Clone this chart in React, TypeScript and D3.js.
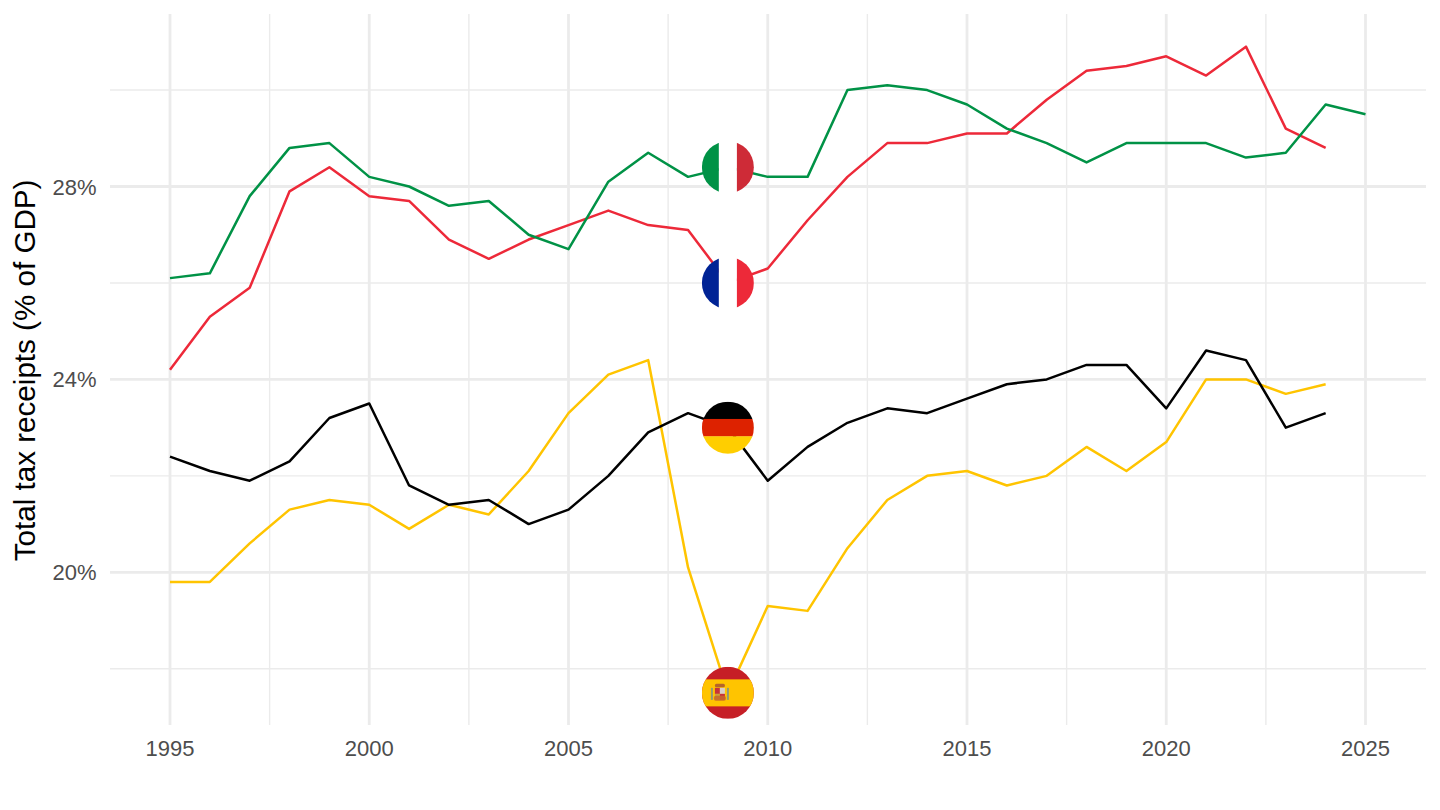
import React from "react";
import * as d3 from "d3";

const years = d3.range(1995, 2026);
const italy = [26.1,26.2,27.8,28.8,28.9,28.2,28.0,27.6,27.7,27.0,26.7,28.1,28.7,28.2,28.4,28.2,28.2,30.0,30.1,30.0,29.7,29.2,28.9,28.5,28.9,28.9,28.9,28.6,28.7,29.7,29.5];
const france = [24.2,25.3,25.9,27.9,28.4,27.8,27.7,26.9,26.5,26.9,27.2,27.5,27.2,27.1,26.0,26.3,27.3,28.2,28.9,28.9,29.1,29.1,29.8,30.4,30.5,30.7,30.3,30.9,29.2,28.8];
const germany = [22.4,22.1,21.9,22.3,23.2,23.5,21.8,21.4,21.5,21.0,21.3,22.0,22.9,23.3,23.0,21.9,22.6,23.1,23.4,23.3,23.6,23.9,24.0,24.3,24.3,23.4,24.6,24.4,23.0,23.3];
const spain = [19.8,19.8,20.6,21.3,21.5,21.4,20.9,21.4,21.2,22.1,23.3,24.1,24.4,20.1,17.5,19.3,19.2,20.5,21.5,22.0,22.1,21.8,22.0,22.6,22.1,22.7,24.0,24.0,23.7,23.9];
const xMajor = [1995, 2000, 2005, 2010, 2015, 2020, 2025];
const xMinor = [1997.5, 2002.5, 2007.5, 2012.5, 2017.5, 2022.5];
const yMajor = [20, 24, 28];
const yMinor = [18, 22, 26, 30];
const flagYear = 2009;
const yLabel = "Total tax receipts (% of GDP)";

const x = d3.scaleLinear().domain([1995, 2025]).range([170, 1365.5]);
const y = d3.scaleLinear().domain([20, 28]).range([572.3, 186.5]);
const line = d3.line<number>().x((_, i) => x(years[i])).y((d) => y(d));

const PANEL = { left: 110, right: 1426, top: 14, bottom: 725 };
const R = 26;

const series = [
  { id: "es", values: spain, color: "#FFC400" },
  { id: "de", values: germany, color: "#000000" },
  { id: "fr", values: france, color: "#ED2939" },
  { id: "it", values: italy, color: "#009246" },
];

function Flag({ id, value }: { id: string; value: number }) {
  const cx = x(flagYear);
  const cy = y(value);
  let body: React.ReactNode = null;
  if (id === "it" || id === "fr") {
    const [a, b] = id === "it" ? ["#009246", "#CE2B37"] : ["#002395", "#ED2939"];
    const w = 9;
    body = (
      <>
        <rect x={cx - R} y={cy - R} width={R - w} height={2 * R} fill={a} />
        <rect x={cx - w} y={cy - R} width={2 * w} height={2 * R} fill="#FFFFFF" />
        <rect x={cx + w} y={cy - R} width={R - w} height={2 * R} fill={b} />
      </>
    );
  } else if (id === "de") {
    const colors = ["#000000", "#DD2200", "#FFCE00"];
    body = colors.map((c, i) => (
      <rect key={c} x={cx - R} y={cy - R + (i * 2 * R) / 3} width={2 * R} height={(2 * R) / 3 + 0.3} fill={c} />
    ));
  } else {
    const c = cx - 8;
    body = (
      <>
        <rect x={cx - R} y={cy - R} width={2 * R} height={2 * R} fill="#C61F26" />
        <rect x={cx - R} y={cy - 13.5} width={2 * R} height={27} fill="#FFC400" />
        <rect x={c - 5} y={cy - 5} width={5} height={6} fill="#C8323A" />
        <rect x={c} y={cy - 5} width={5} height={6} fill="#D8CFCB" />
        <rect x={c - 5} y={cy + 1} width={5} height={6} fill="#C9A23A" />
        <rect x={c} y={cy + 1} width={5} height={6} fill="#C8323A" />
        <rect x={c - 6} y={cy + 3} width={12} height={5} rx={2} fill="#C8682A" opacity={0.85} />
        <rect x={c - 5} y={cy - 9} width={10} height={3.5} rx={1.5} fill="#B5652A" />
        <rect x={c - 9} y={cy - 5} width={2} height={12} fill="#8E9A78" />
        <rect x={c + 7} y={cy - 5} width={2} height={12} fill="#8E9A78" />
      </>
    );
  }
  return (
    <g>
      <clipPath id={`clip-${id}`}>
        <circle cx={cx} cy={cy} r={R} />
      </clipPath>
      <g clipPath={`url(#clip-${id})`}>{body}</g>
    </g>
  );
}

export default function App() {
  const font = "'Liberation Sans', Arial, Helvetica, sans-serif";
  const tick = { fill: "#4D4D4D", fontSize: 22, fontFamily: font };
  return (
    <svg
      width={1440}
      height={810}
      viewBox="0 0 1440 810"
      style={{ position: "absolute", left: 0, top: 0, background: "#fff" }}
    >
      {yMinor.map((v) => (
        <line key={v} x1={PANEL.left} x2={PANEL.right} y1={y(v)} y2={y(v)} stroke="#EBEBEB" strokeWidth={1.4} />
      ))}
      {xMinor.map((v) => (
        <line key={v} x1={x(v)} x2={x(v)} y1={PANEL.top} y2={PANEL.bottom} stroke="#EBEBEB" strokeWidth={1.4} />
      ))}
      {yMajor.map((v) => (
        <line key={v} x1={PANEL.left} x2={PANEL.right} y1={y(v)} y2={y(v)} stroke="#EBEBEB" strokeWidth={2.8} />
      ))}
      {xMajor.map((v) => (
        <line key={v} x1={x(v)} x2={x(v)} y1={PANEL.top} y2={PANEL.bottom} stroke="#EBEBEB" strokeWidth={2.8} />
      ))}
      {series.map((s) => (
        <path key={s.id} d={line(s.values) ?? ""} fill="none" stroke={s.color} strokeWidth={2.5} strokeLinejoin="round" />
      ))}
      {series.map((s) => (
        <Flag key={s.id} id={s.id} value={s.values[years.indexOf(flagYear)]} />
      ))}
      {xMajor.map((v) => (
        <text key={v} x={x(v)} y={755.5} textAnchor="middle" {...tick}>
          {v}
        </text>
      ))}
      {yMajor.map((v) => (
        <text key={v} x={96.5} y={y(v) + 8} textAnchor="end" {...tick}>
          {v}%
        </text>
      ))}
      <text
        transform={`translate(35,${y(24) - 9}) rotate(-90)`}
        x={0}
        y={0}
        textAnchor="middle"
        fill="#000"
        fontSize={29.6}
        fontFamily={font}
      >
        {yLabel}
      </text>
    </svg>
  );
}
